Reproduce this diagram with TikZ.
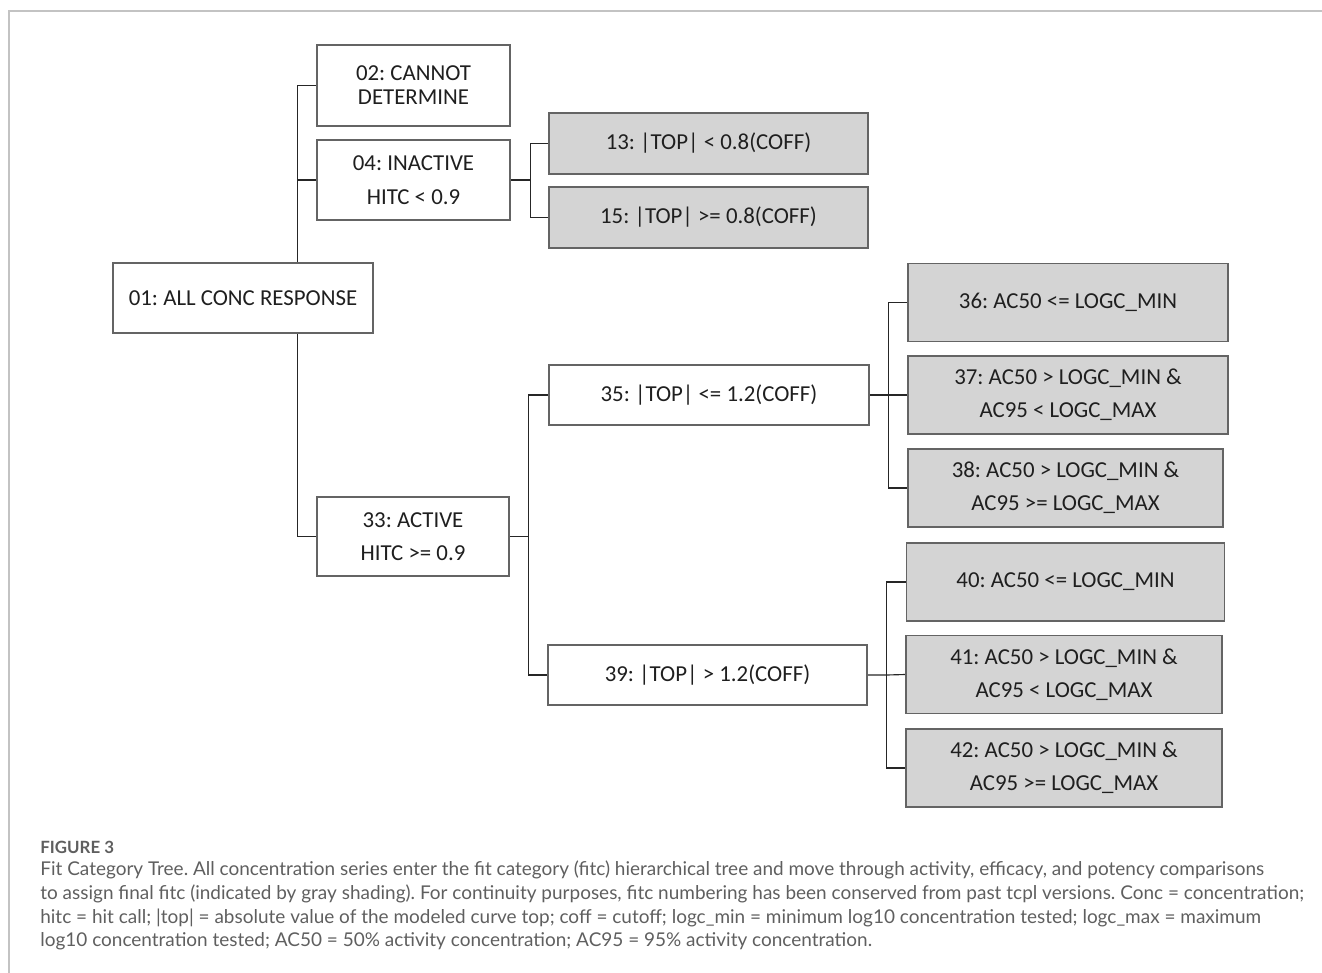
\documentclass[tikz,border=0pt]{standalone}
\usepackage{fontspec}
\setmainfont{Carlito}
\newfontfamily\capfont{Lato}
\usetikzlibrary{backgrounds}
\frenchspacing

\definecolor{boxgray}{RGB}{212,212,212}
\definecolor{edgegray}{RGB}{100,100,100}
\definecolor{capgray}{RGB}{95,95,95}
\definecolor{framegray}{RGB}{195,195,195}

\tikzset{
  fitbox/.style={draw=edgegray, line width=0.9pt, fill=white, text=black!88,
    align=center, inner sep=0pt, font=\fontsize{13}{19}\selectfont},
  finalbox/.style={fitbox, fill=boxgray},
  midcol/.style={minimum width=6.4cm, minimum height=1.2cm},
  leafcol/.style={minimum width=6.36cm, minimum height=1.56cm},
  link/.style={draw=black!85, line width=0.65pt},
  captext/.style={anchor=west, inner sep=0pt, text=capgray,
    font=\capfont\fontsize{10.8}{12}\selectfont}
}

\begin{document}
\begin{tikzpicture}[x=0.02cm, y=-0.02cm]
  \useasboundingbox (0,0) rectangle (1322,973);

  % page frame (top and left edge only)
  \draw[framegray, line width=1.1pt] (9,973) -- (9,11) -- (1322,11);

  % first level
  \node[fitbox, minimum width=5.2cm, minimum height=1.4cm] (root) at (243,298) {01: ALL CONC RESPONSE};
  \node[fitbox, minimum width=3.86cm, minimum height=1.62cm, font=\fontsize{13}{13.6}\selectfont] (n02) at (413.5,85.5) {02: CANNOT\\DETERMINE};
  \node[fitbox, minimum width=3.86cm, minimum height=1.6cm] (n04) at (413.5,180) {04: INACTIVE\\HITC < 0.9};
  \node[fitbox, minimum width=3.84cm, minimum height=1.58cm] (n33) at (413,536.5) {33: ACTIVE\\HITC >= 0.9};

  % inactive branch
  \node[finalbox, minimum width=6.38cm, minimum height=1.22cm] (n13) at (708.5,143.5) {13: |TOP| < 0.8(COFF)};
  \node[finalbox, minimum width=6.38cm, minimum height=1.22cm] (n15) at (708.5,217.5) {15: |TOP| >= 0.8(COFF)};

  % active branch
  \node[fitbox, midcol] (n35) at (709,395) {35: |TOP| <= 1.2(COFF)};
  \node[fitbox, midcol, minimum width=6.38cm] (n39) at (707.5,675) {39: |TOP| > 1.2(COFF)};

  \node[finalbox, leafcol, minimum width=6.4cm] (n36) at (1068,302.5) {36: AC50 <= LOGC\_MIN};
  \node[finalbox, leafcol, minimum width=6.4cm] (n37) at (1068,395) {37: AC50 > LOGC\_MIN \&\\AC95 < LOGC\_MAX};
  \node[finalbox, leafcol, minimum width=6.3cm] (n38) at (1065.5,488) {38: AC50 > LOGC\_MIN \&\\AC95 >= LOGC\_MAX};

  \node[finalbox, leafcol] (n40) at (1065.5,582) {40: AC50 <= LOGC\_MIN};
  \node[finalbox, leafcol, minimum width=6.32cm] (n41) at (1064,674.5) {41: AC50 > LOGC\_MIN \&\\AC95 < LOGC\_MAX};
  \node[finalbox, leafcol, minimum width=6.32cm] (n42) at (1064,768) {42: AC50 > LOGC\_MIN \&\\AC95 >= LOGC\_MAX};

  % connectors behind the boxes
  \begin{scope}[on background layer]
    \draw[link] (n02.west) -- ++(-19,0) coordinate (trunk) |- (n33.west);
    \draw[link] (n04.west) -- (n04.west -| trunk);

    \draw[link] (n04.east) -- ++(20,0) coordinate (j04);
    \draw[link] (n13.west) -| (j04) |- (n15.west);

    \draw[link] (n33.east) -- ++(19,0) coordinate (j33);
    \draw[link] (n35.west) -| (j33) |- (n39.west);

    \draw[link] (n35.east) -- ++(19,0) coordinate (j35) -- (n37.west);
    \draw[link] (n36.west) -| (j35) |- (n38.west);

    \draw[link] (n39.east) -- ++(19,0) coordinate (j39) -- (n41.west);
    \draw[link] (n40.west) -| (j39) |- (n42.west);
  \end{scope}

  % caption
  \node[captext, font=\capfont\bfseries\fontsize{9.6}{12}\selectfont] (figlabel) at (40,847) {FIGURE 3};
  \node[captext] (cap1) at (40,870) {Fit Category Tree. All concentration series enter the fit category (fitc) hierarchical tree and move through activity, efficacy, and potency comparisons};
  \node[captext] (cap2) at (40,894) {to assign final fitc (indicated by gray shading). For continuity purposes, fitc numbering has been conserved from past tcpl versions. Conc = concentration;};
  \node[captext] (cap3) at (40,918) {hitc = hit call; |top| = absolute value of the modeled curve top; coff = cutoff; logc\_min = minimum log10 concentration tested; logc\_max = maximum};
  \node[captext] (cap4) at (40,941) {log10 concentration tested; AC50 = 50\% activity concentration; AC95 = 95\% activity concentration.};

\end{tikzpicture}
\end{document}
